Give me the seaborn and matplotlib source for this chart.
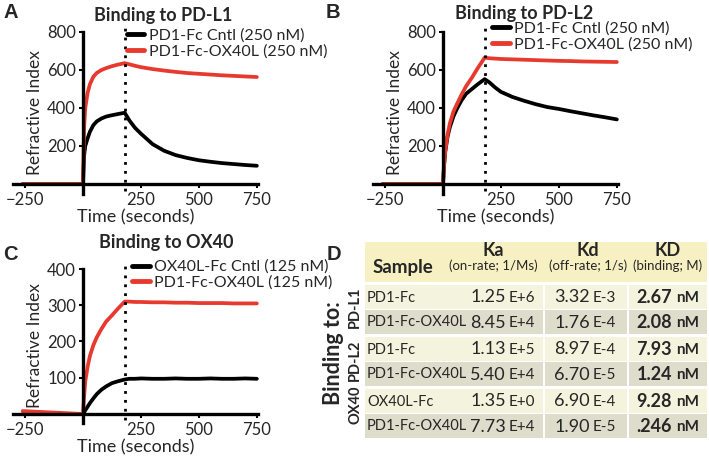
import pandas as pd
import seaborn as sns
import matplotlib.pyplot as plt
from matplotlib.patches import Rectangle

# 1. Data (time in s, response in refractive index units)
time_s = [-260, -200, -100, -5, 0, 5, 10, 20, 30, 45, 60, 80, 100, 125, 150, 180,
          200, 225, 250, 300, 350, 400, 450, 500, 550, 600, 650, 700, 750]

pdl1_cntl = [0, 0, 0, 0, 0, 150, 200, 240, 275, 310, 330, 345, 355, 362, 368, 375,
             335, 295, 265, 210, 175, 152, 137, 125, 117, 110, 105, 100, 96]
pdl1_fusion = [0, 0, 0, 0, 0, 300, 400, 480, 525, 565, 585, 600, 610, 620, 628, 636,
               630, 622, 615, 605, 597, 590, 584, 580, 576, 572, 569, 566, 563]

pdl2_cntl = [0, 0, 0, 0, 0, 100, 170, 250, 300, 355, 395, 440, 475, 500, 525, 552,
             535, 508, 485, 458, 438, 420, 405, 395, 383, 372, 361, 351, 340]
pdl2_fusion = [0, 0, 0, 0, 0, 100, 175, 260, 320, 380, 420, 470, 515, 560, 610, 665,
               662, 660, 658, 656, 654, 652, 650, 648, 647, 645, 644, 643, 642]

ox40_cntl = [0, 0, 0, 0, 0, 5, 10, 20, 30, 43, 55, 67, 76, 85, 90, 95,
             97, 97, 98, 97, 97, 98, 97, 97, 98, 97, 97, 98, 97]
ox40_fusion = [8, 6, 3, 0, 0, 50, 90, 130, 160, 190, 212, 235, 255, 272, 290, 310,
               310, 309, 309, 308, 308, 307, 307, 306, 306, 306, 305, 305, 305]

dissoc_t = 180

# kinetics table
samples = ["PD1-Fc", "PD1-Fc-OX40L", "PD1-Fc", "PD1-Fc-OX40L", "OX40L-Fc", "PD1-Fc-OX40L"]
ka_val = ["1.25", "8.45", "1.13", "5.40", "1.35", "7.73"]
ka_exp = ["E+6", "E+4", "E+5", "E+4", "E+0", "E+4"]
kd_val = ["3.32", "1.76", "8.97", "6.70", "6.90", "1.90"]
kd_exp = ["E-3", "E-4", "E-4", "E-5", "E-4", "E-5"]
KD_val = ["2.67", "2.08", "7.93", "1.24", "9.28", ".246"]
targets = ["PD-L1", "PD-L2", "OX40"]

BLACK = "#000000"
RED = "#e8392e"

sns.set_theme(style="ticks")
plt.rcParams['font.family'] = ['Lato', 'DejaVu Sans']
W, H = 709, 457
fig = plt.figure(figsize=(W / 100, H / 100), dpi=100)


def px(x0, y0, x1, y1):
    return [x0 / W, 1 - y1 / H, (x1 - x0) / W, (y1 - y0) / H]


def sensorgram(rect, cntl, fusion, labels, ylim, yticks, leg_anchor):
    ax = fig.add_axes(rect)
    n = len(time_s)
    df = pd.DataFrame({"Time": time_s * 2, "RI": cntl + fusion,
                       "Sample": [labels[0]] * n + [labels[1]] * n})
    sns.lineplot(data=df, x="Time", y="RI", hue="Sample", palette=[BLACK, RED],
                 linewidth=2.7, estimator=None, sort=False, ax=ax, clip_on=False)
    ax.set_xlim(-300, 755)
    ax.set_ylim(ylim)
    ax.vlines(dissoc_t, ylim[0] * 0.7, ylim[1] * 1.025, colors="black",
              linestyles=(0, (1, 2.2)), linewidth=2, clip_on=False)
    for s in ["top", "right"]:
        ax.spines[s].set_visible(False)
    ax.spines["left"].set_position(("data", 0))
    ax.spines["bottom"].set_position(("data", 0))
    for s in ["left", "bottom"]:
        ax.spines[s].set_linewidth(2.4)
        ax.spines[s].set_color("black")
    ax.set_xticks([-250, 250, 500, 750])
    ax.set_yticks(yticks)
    ax.tick_params(axis="both", labelsize=12, length=3, width=1.5, color="black", pad=2)
    ax.tick_params(axis="x", pad=2.5)
    ax.set_xlabel("Time (seconds)", fontsize=13, labelpad=1)
    ax.set_ylabel("Refractive Index", fontsize=12.5, labelpad=3)
    ax.set_facecolor("none")
    handles, labs = ax.get_legend_handles_labels()
    leg = ax.legend(handles, labs, loc="upper left", bbox_to_anchor=leg_anchor,
                    frameon=False, fontsize=11.5, handlelength=1.1, handletextpad=0.3,
                    borderpad=0, borderaxespad=0, labelspacing=0.1)
    for h in leg.get_lines():
        h.set_linewidth(3.5)
    return ax


sensorgram(px(13.4, 32, 258, 193.5), pdl1_cntl, pdl1_fusion,
           ["PD1-Fc Cntl (250 nM)", "PD1-Fc-OX40L (250 nM)"],
           (-50, 800), [200, 400, 600, 800], (0.464, 1.025))
sensorgram(px(373.4, 32, 618, 193.5), pdl2_cntl, pdl2_fusion,
           ["PD1-Fc Cntl (250 nM)", "PD1-Fc-OX40L (250 nM)"],
           (-50, 800), [200, 400, 600, 800], (0.485, 1.065))
sensorgram(px(13.4, 269, 258, 423), ox40_cntl, ox40_fusion,
           ["OX40L-Fc Cntl (125 nM)", "PD1-Fc-OX40L (125 nM)"],
           (-25, 400), [100, 200, 300, 400], (0.485, 1.06))

# titles and panel letters
for x, y, t in [(163, 15, "Binding to PD-L1"), (524, 13, "Binding to PD-L2"),
                (166, 243, "Binding to OX40")]:
    fig.text(x / W, 1 - y / H, t, ha="center", va="center", fontsize=13, fontweight="bold")
for x, y, t in [(11, 13, "A"), (333, 13, "B"), (10, 255, "C"), (334, 254, "D")]:
    fig.text(x / W, 1 - y / H, t, ha="center", va="center", fontsize=14.5,
             fontweight="bold", family="Liberation Sans")

# 2. Panel D: kinetics table, drawn in pixel coordinates
tab = fig.add_axes([0, 0, 1, 1])
tab.set_xlim(0, W)
tab.set_ylim(H, 0)
tab.axis("off")
tab.patch.set_alpha(0)

tab.add_patch(Rectangle((365, 242), 342, 40, color="#f7f0c2", lw=0))
row_tops = [285, 310, 337, 362, 389, 414]
cols = [(365, 543), (545, 627), (629, 707)]
for i, top in enumerate(row_tops):
    fill = "#f4f4de" if i % 2 == 0 else "#dedccb"
    for x0, x1 in cols:
        tab.add_patch(Rectangle((x0, top), x1 - x0, 23.5, color=fill, lw=0))
    yc = top + 12.5
    tab.text(367, yc, samples[i], ha="left", va="center", fontsize=10.5)
    tab.text(506, yc, ka_val[i], ha="right", va="center", fontsize=13)
    tab.text(509, yc + 0.5, ka_exp[i], ha="left", va="center", fontsize=11)
    tab.text(590, yc, kd_val[i], ha="right", va="center", fontsize=13)
    tab.text(593, yc + 0.5, kd_exp[i], ha="left", va="center", fontsize=11)
    tab.text(672, yc, KD_val[i], ha="right", va="center", fontsize=13, fontweight="bold")
    tab.text(676, yc + 0.5, "nM", ha="left", va="center", fontsize=11, fontweight="bold")

tab.text(373, 267, "Sample", ha="left", va="center", fontsize=13.5, fontweight="bold")
for xc, big, small in [(493, "Ka", "(on-rate; 1/Ms)"), (588, "Kd", "(off-rate; 1/s)"),
                       (668, "KD", "(binding; M)")]:
    tab.text(xc, 250, big, ha="center", va="center", fontsize=13, fontweight="bold")
    tab.text(xc, 266, small, ha="center", va="center", fontsize=9.5)

tab.text(333, 353, "Binding to:", ha="center", va="center", rotation=90,
         fontsize=15.5, fontweight="bold")
for yc, t in zip([307, 360, 405], targets):
    tab.text(355, yc, t, ha="center", va="center", rotation=90, fontsize=10.5,
             fontweight="bold")

plt.savefig("out.png", dpi=100)
